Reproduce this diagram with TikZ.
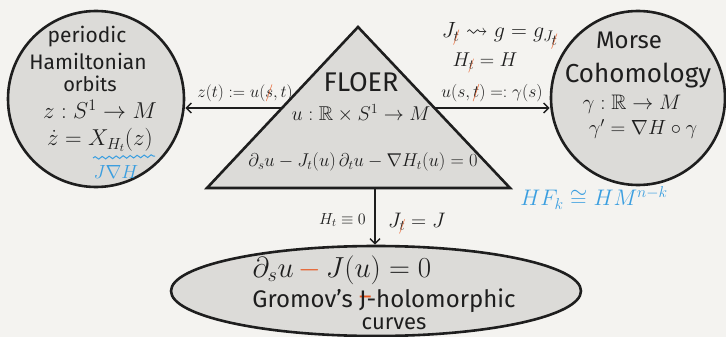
\RequirePackage{fix-cm}
\documentclass[tikz,border=0pt]{standalone}
\usepackage{amssymb}
\usepackage{fontspec}
\setmainfont{Fira Sans}
\usetikzlibrary{arrows.meta,shapes.geometric,decorations.pathmorphing}
\definecolor{bg}{HTML}{F4F3F0}
\definecolor{shp}{HTML}{DCDBD8}
\definecolor{ink}{HTML}{1E1E1E}
\definecolor{strike}{HTML}{E8561E}
\definecolor{blu}{HTML}{3A9EE0}
\newcommand\xsub[1]{\hbox{\ooalign{$\scriptstyle #1$\cr\hidewidth$\scriptstyle\color{strike}/$\hidewidth\cr}}}
\newcommand\xmain[1]{\hbox{\ooalign{$#1$\cr\hidewidth$\color{strike}/$\hidewidth\cr}}}
\newcommand\fs[1]{\fontsize{#1}{#1}\selectfont}
\tikzset{
  blob/.style={draw=ink, fill=shp, line width=2.6pt},
  txt/.style={inner sep=0pt, text=ink, font=\fs{21}},
  lbl/.style={inner sep=0pt, text=ink, font=\fs{17}},
  arr/.style={draw=ink, line width=1.4pt, -{Straight Barb[length=5pt,width=10pt,line width=1.4pt]}},
}
\begin{document}
\begin{tikzpicture}[x=1pt,y=-1pt]
\fill[bg] (0,0) rectangle (726,337);
\useasboundingbox (0,0) rectangle (726,337);

% shapes
\node[blob, circle, minimum size=176pt] (L) at (96,99) {};
\node[blob, circle, minimum size=174pt] (R) at (638,98) {};
\node[blob, ellipse, minimum width=410pt, minimum height=90pt] (E) at (376,291) {};
\coordinate (apex) at (358,27);
\coordinate (bl) at (207,188);
\coordinate (br) at (510,188);
\filldraw[blob, line join=miter] (apex) -- (br) -- (bl) -- cycle;
\coordinate (tl) at (283,108);
\coordinate (tr) at (434,108);
\coordinate (bm) at (375,189);

% connectors
\draw[arr] (tl) -- (tl -| L.east);
\draw[arr] (tr) -- (tr -| R.west);
\draw[arr] (bm) -- (bm |- E.north);

% left circle
\node[txt] (l1) at (87,37) {periodic};
\node[txt] (l2) at (88,61) {Hamiltonian};
\node[txt, font=\fs{20}] (l3) at (90,84) {orbits};
\node[txt, font=\fs{23}] (l4) at (100,109) {$z : S^1 \to M$};
\node[txt, font=\fs{23}] (l5) at (100,140) {$\dot z = X_{H_t}(z)$};
\draw[blu, line width=1pt, decorate, decoration={snake, amplitude=1.3pt, segment length=7pt}] (93,158) -- (155,156);
\node[txt, text=blu, font=\fs{19}] (l6) at (116,172) {$J\nabla H$};

% triangle
\node[txt, font=\fs{27}] (t1) at (361,82) {FLOER};
\node[txt, font=\fs{20}] (t2) at (361,113) {$u : \mathbb{R}\times S^1 \to M$};
\node[txt, font=\fs{18.5}] (t3) at (363,162) {$\partial_s u - J_t(u)\,\partial_t u - \nabla H_t(u) = 0$};

% right circle
\node[txt, font=\fs{24}] (r1) at (629,40) {Morse};
\node[txt, font=\fs{26}] (r2) at (638,76) {Cohomology};
\node[txt, font=\fs{21}] (r3) at (632,104) {$\gamma : \mathbb{R} \to M$};
\node[txt, font=\fs{20.5}] (r4) at (643,129) {$\gamma' = \nabla H \circ \gamma$};

% top right notes
\node[txt, font=\fs{22}] (n1) at (500,36) {$J_{\xsub{t}} \rightsquigarrow g = g_{J_{\xsub{t}}}$};
\node[txt, font=\fs{20}] (n2) at (485,63) {$H_{\xsub{t}} = H$};

% arrow labels
\node[lbl, anchor=south] (a1) at (245,102) {$z(t) := u(\xmain{s},t)$};
\node[lbl, font=\fs{17.5}, anchor=south] (a2) at (492,102) {$u(s,\xmain{t}) =: \gamma(s)$};
\node[lbl, font=\fs{16}, anchor=east] (a3) at (366,220) {$H_t \equiv 0$};
\node[lbl, font=\fs{21}, anchor=west] (a4) at (388,224) {$J_{\xsub{t}} = J$};

% blue note
\node[txt, text=blu, font=\fs{22.5}] (hf) at (594,198) {$HF_k \cong HM^{n-k}$};

% ellipse
\node[txt, font=\fs{29}] (e1) at (342,270) {$\partial_s u\,{\color{strike}-}\,J(u) = 0$};
\node[txt, font=\fs{24}] (e2) at (384,301) {Gromov's \rlap{\color{strike}\raisebox{0.3ex}{--}}J-holomorphic};
\node[txt, font=\fs{22}] (e3) at (394,324) {curves};
\end{tikzpicture}
\end{document}
